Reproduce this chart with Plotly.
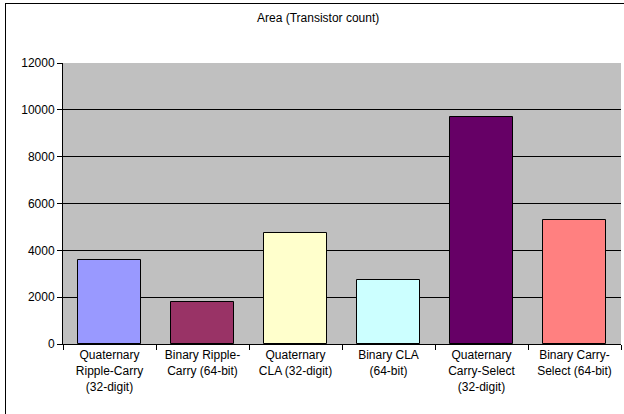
import plotly.graph_objects as go

categories = [
    "Quaternary<br>Ripple-Carry<br>(32-digit)",
    "Binary Ripple-<br>Carry (64-bit)",
    "Quaternary<br>CLA (32-digit)",
    "Binary CLA<br>(64-bit)",
    "Quaternary<br>Carry-Select<br>(32-digit)",
    "Binary Carry-<br>Select (64-bit)",
]
values = [3600, 1800, 4720, 2740, 9680, 5300]
colors = ["#9999FF", "#993366", "#FFFFCC", "#CCFFFF", "#660066", "#FF8080"]
y_ticks = [0, 2000, 4000, 6000, 8000, 10000, 12000]
y_tick_labels = ["0", "2000", "4000", "6000", "8000", "10000", "12000"]

W, H = 624, 414
L, R, T, B = 63, 3, 63, 70
pw, ph = W - L - R, H - T - B

def px(x):
    return (x - L) / pw

def py(y):
    return (H - B - y) / ph

fig = go.Figure()
fig.add_trace(go.Bar(
    x=categories, y=values,
    marker=dict(color=colors, line=dict(color="black", width=1)),
    width=0.667,
))

font = dict(family="Liberation Sans, Arial, sans-serif", size=12, color="black")

fig.update_layout(
    width=W, height=H,
    margin=dict(l=L, r=R, t=T, b=B),
    paper_bgcolor="white",
    plot_bgcolor="#C0C0C0",
    font=font,
    showlegend=False,
    bargap=0,
    xaxis=dict(
        showline=True, linecolor="black", linewidth=1,
        ticks="outside", tickson="boundaries", ticklen=5, tickcolor="black",
        showgrid=False, tickangle=0, tickfont=font,
    ),
    yaxis=dict(
        range=[0, 12000], tickvals=y_ticks, ticktext=y_tick_labels,
        showline=True, linecolor="black", linewidth=1,
        ticks="outside", ticklen=5, tickcolor="black",
        showgrid=True, gridcolor="black", gridwidth=1,
        zeroline=False, tickfont=font,
    ),
    annotations=[
        dict(text=" ", xref="paper", yref="paper",
             x=px(5), y=py(3), xanchor="left", yanchor="top",
             width=700, height=500, showarrow=False,
             bordercolor="black", borderwidth=1, borderpad=0),
        dict(text="Area (Transistor count)", xref="paper", yref="paper",
             x=px(318), y=py(18), showarrow=False, xanchor="center", yanchor="middle",
             font=font),
    ],
)

fig.write_html("out.html", config={"displayModeBar": False})
